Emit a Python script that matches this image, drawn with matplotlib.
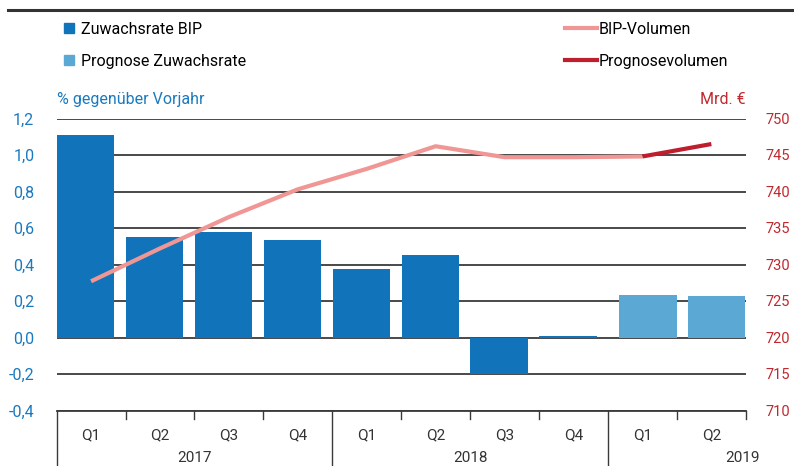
import numpy as np
import matplotlib.pyplot as plt
from matplotlib.patches import Patch
from matplotlib.lines import Line2D
from matplotlib.ticker import FuncFormatter, MultipleLocator

plt.rcParams['font.family'] = ['Roboto', 'DejaVu Sans']

quarters = ["Q1", "Q2", "Q3", "Q4", "Q1", "Q2", "Q3", "Q4", "Q1", "Q2"]
years = ["2017", "2018", "2019"]
growth = [1.11, 0.55, 0.58, 0.535, 0.375, 0.45, -0.20, 0.01, np.nan, np.nan]
growth_fc = [np.nan] * 8 + [0.235, 0.23]
volume = [727.7, 732.2, 736.5, 740.3, 743.1, 746.2, 744.7, 744.7, 744.8, np.nan]
volume_fc = [np.nan] * 8 + [744.8, 746.5]

c_bar = "#1174bb"
c_bar_fc = "#5ba8d4"
c_line = "#f09694"
c_line_fc = "#be1e2d"
c_left = "#1a7ac0"
c_right = "#c0282d"
c_grid = "#3a3a3a"

fig = plt.figure(figsize=(7.94, 4.66), dpi=100)
W, H = 794, 466
x0, x1, ytop, ybot = 56.6, 745.8, 118.5, 410.5
ax = fig.add_axes([x0 / W, 1 - ybot / H, (x1 - x0) / W, (ybot - ytop) / H])
ax2 = ax.twinx()

x = np.arange(len(quarters)) + 0.5
ax.bar(x - 0.08, growth, width=0.83, color=c_bar, zorder=3)
ax.bar(x + 0.08, growth_fc, width=0.83, color=c_bar_fc, zorder=3)

ax.set_xlim(0, 10)
ax.set_ylim(-0.4, 1.2)
ax.yaxis.set_major_locator(MultipleLocator(0.2))
ax.yaxis.set_major_formatter(FuncFormatter(lambda v, p: f"{v:.1f}".replace(".", ",")))
ax.grid(axis="y", color=c_grid, lw=1.3, zorder=1)
ax.set_axisbelow(True)
ax.set_xticks([])
ax.tick_params(axis="y", length=0, pad=16, labelsize=11.5, labelcolor=c_left)
for s in ax.spines.values():
    s.set_visible(False)

ax2.plot(x, volume, color=c_line, lw=3, solid_capstyle="butt", zorder=4)
ax2.plot(x, volume_fc, color=c_line_fc, lw=3, solid_capstyle="butt", zorder=5)
ax2.set_ylim(710, 750)
ax2.yaxis.set_major_locator(MultipleLocator(5))
ax2.tick_params(axis="y", length=0, pad=14, labelsize=10.5, labelcolor=c_right)
for s in ax2.spines.values():
    s.set_visible(False)

# x axis: baseline, quarter ticks and year separators
tr = ax.get_xaxis_transform()
ah = ybot - ytop
ax.plot([0, 10], [0, 0], color=c_grid, lw=1.3, transform=tr, clip_on=False, zorder=2)
for b in range(0, 11):
    if b in (0, 4, 8):
        ax.plot([b, b], [0, -(H - ybot) / ah], color=c_grid, lw=1, transform=tr, clip_on=False)
    else:
        ax.plot([b, b], [0, -8 / ah], color=c_grid, lw=1, transform=tr, clip_on=False)
for xi, q in zip(x, quarters):
    ax.text(xi, -25 / ah, q, transform=tr, ha="center", va="center", fontsize=11, color="#333333")
for xi, yr in zip([2, 6, 9.95], years):
    ax.text(xi, -41 / ah, yr, transform=tr, ha="center", va="top", fontsize=11, color="#333333")

ax.text(0, 1.04, "% gegenüber Vorjahr", transform=ax.transAxes, ha="left", va="bottom",
        fontsize=11.5, color=c_left)
ax.text(1, 1.04, "Mrd. €", transform=ax.transAxes, ha="right", va="bottom",
        fontsize=11.5, color=c_right)

# top rule
fig.add_artist(Line2D([8 / W, 1], [1 - 10 / H] * 2, color="#333333", lw=2.2))

leg1 = fig.legend(handles=[Patch(color=c_bar, label="Zuwachsrate BIP"),
                           Patch(color=c_bar_fc, label="Prognose Zuwachsrate")],
                  loc="upper left", bbox_to_anchor=(64 / W, 1 - 22 / H), frameon=False,
                  fontsize=11.5, handlelength=0.6, handleheight=0.6, handletextpad=0.45,
                  labelspacing=1.05, borderpad=0, borderaxespad=0)
leg2 = fig.legend(handles=[Line2D([], [], color=c_line, lw=3, label="BIP-Volumen"),
                           Line2D([], [], color=c_line_fc, lw=3, label="Prognosevolumen")],
                  loc="upper left", bbox_to_anchor=(565 / W, 1 - 22 / H), frameon=False,
                  fontsize=11.5, handlelength=2.0, handletextpad=0.1,
                  labelspacing=1.05, borderpad=0, borderaxespad=0)

fig.savefig("out.png", dpi=100)
